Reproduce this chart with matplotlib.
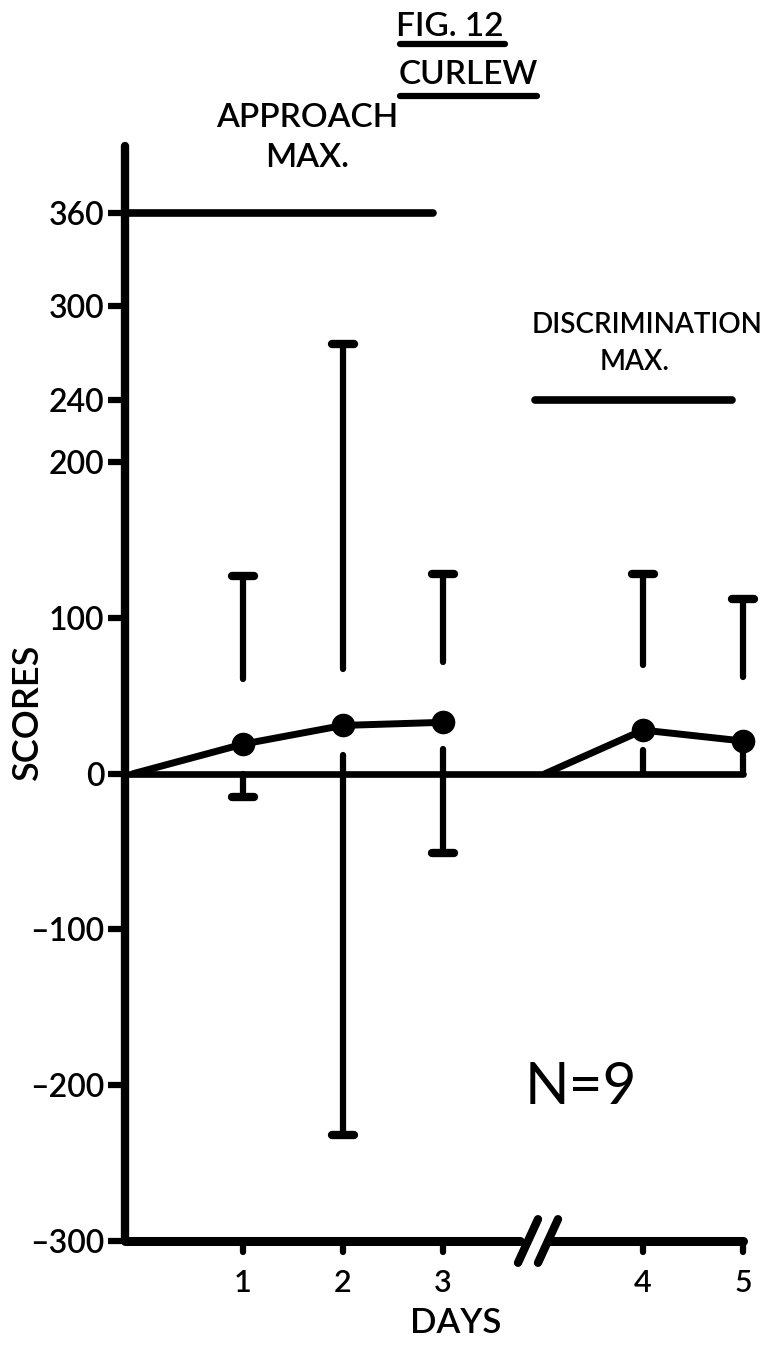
import matplotlib
matplotlib.use("Agg")
import matplotlib.pyplot as plt
from matplotlib.lines import Line2D

# ---------------- data ----------------
days = ["1", "2", "3", "4", "5"]
means = [19, 31, 33, 28, 21]
upper_lo = [61, 67, 72, 70, 62]
upper_hi = [127, 276, 128, 128, 112]
lower_hi = [0, 12, 16, 15, 21]
lower_lo = [-15, -232, -51, 0, 0]
lower_cap = [True, True, True, False, False]
approach_max = 360
discrim_max = 240
yticks = [-300, -200, -100, 0, 100, 200, 240, 300, 360]

# ---------------- layout ----------------
W, H = 775, 1348
plt.rcParams['font.family'] = ['Lato', 'DejaVu Sans']
plt.rcParams['font.weight'] = 'semibold'
fig = plt.figure(figsize=(W / 100, H / 100), dpi=100)

def fx(x):
    return x / W

def fy(y):
    return 1 - y / H

ax_left, ax_right, ax_top, ax_bot = 125, 775, 146, 1241
ax = fig.add_axes([fx(ax_left), fy(ax_bot), (ax_right - ax_left) / W, (ax_bot - ax_top) / H])
ax.set_xlim((ax_left - 143) / 100, (ax_right - 143) / 100)
ax.set_ylim(-300, 403)
for s in ["top", "right", "bottom"]:
    ax.spines[s].set_visible(False)
ax.spines["left"].set_linewidth(6)
ax.spines["left"].set_capstyle("round")
ax.set_facecolor("white")

# day positions: gap of one unit for the axis break between day 3 and day 4
gap = 1
xpos = [i + 1 + (gap if i >= 3 else 0) for i in range(len(days))]
break_x = 3.95
x_axis = ax.get_xlim()[0]

ax.set_yticks(yticks)
ax.set_yticklabels([str(v).replace("-", "\u2013") for v in yticks])
ax.tick_params(axis="y", direction="out", length=12, width=4.5, labelsize=23, pad=3)
ax.set_xticks([])

k = "black"
lw_bar = 4.5
lw_line = 5
round_kw = dict(solid_capstyle="round", color=k)

# zero line
ax.plot([x_axis, xpos[-1]], [0, 0], lw=4.8, **round_kw)

# mean lines
ax.plot([x_axis + 0.08] + xpos[:3], [0] + means[:3], lw=lw_line, **round_kw)
ax.plot([break_x + 0.07] + xpos[3:], [0] + means[3:], lw=lw_line, **round_kw)
ax.plot(xpos, means, "o", color=k, ms=16)

# error bars
capw = 0.11
for x, ulo, uhi, lhi, llo, lc in zip(xpos, upper_lo, upper_hi, lower_hi, lower_lo, lower_cap):
    ax.plot([x, x], [ulo, uhi], lw=lw_bar, **round_kw)
    ax.plot([x - capw, x + capw], [uhi, uhi], lw=6, **round_kw)
    ax.plot([x, x], [llo, lhi], lw=lw_bar, **round_kw)
    if lc:
        ax.plot([x - capw, x + capw], [llo, llo], lw=6, **round_kw)

# maximum lines
ax.plot([x_axis, 2.9], [approach_max, approach_max], lw=5.5, **round_kw)
ax.plot([3.92, 5.89], [discrim_max, discrim_max], lw=5.5, **round_kw)

# bottom axis with break
y0 = -300
ax.plot([x_axis, break_x - 0.18], [y0, y0], lw=6.5, clip_on=False, **round_kw)
ax.plot([break_x + 0.1, xpos[-1]], [y0, y0], lw=6.5, clip_on=False, **round_kw)
for dx in (-0.1, 0.1):
    ax.plot([break_x + dx - 0.1, break_x + dx + 0.1], [y0 - 14, y0 + 14], lw=6,
            clip_on=False, **round_kw)
for x, lab in zip(xpos, days):
    ax.plot([x, x], [y0, y0 - 7], lw=4.5, clip_on=False, **round_kw)
    ax.text(x, y0 - 18, lab, ha="center", va="top", fontsize=22)

# ---------------- texts ----------------
fig.text(fx(27), fy(712), "SCORES", rotation=90, ha="center", va="center", fontsize=26)
fig.text(fx(456), fy(1323), "DAYS", ha="center", va="center", fontsize=25)
fig.text(fx(581), fy(1088), "N=9", ha="center", va="center", fontsize=42,
         fontweight="normal")

fig.text(fx(450), fy(27), "FIG. 12", ha="center", va="center", fontsize=24)
fig.text(fx(468), fy(75), "CURLEW", ha="center", va="center", fontsize=24)
fig.add_artist(Line2D([fx(400), fx(505)], [fy(44), fy(44)], lw=4.5, color=k,
                      solid_capstyle="round"))
fig.add_artist(Line2D([fx(400), fx(537)], [fy(96), fy(96)], lw=4.5, color=k,
                      solid_capstyle="round"))
fig.text(fx(307), fy(118), "APPROACH", ha="center", va="center", fontsize=24)
fig.text(fx(307), fy(158), "MAX.", ha="center", va="center", fontsize=24)
fig.text(fx(647), fy(325), "DISCRIMINATION", ha="center", va="center", fontsize=20)
fig.text(fx(635), fy(362), "MAX.", ha="center", va="center", fontsize=20)

fig.savefig("out.png", dpi=100, facecolor="white")
